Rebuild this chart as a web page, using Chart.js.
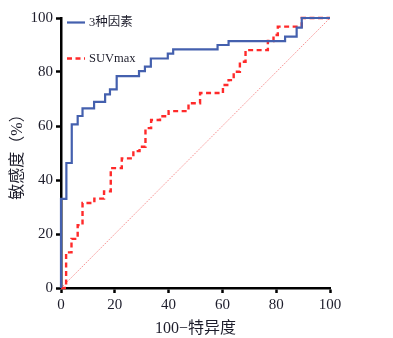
<!DOCTYPE html>
<html>
<head>
<meta charset="utf-8">
<script src="https://cdn.jsdelivr.net/npm/chart.js@4/dist/chart.umd.min.js"></script>
<style>
  html, body { margin: 0; padding: 0; background: #fff; }
  #wrap { width: 393px; height: 338px; position: relative; }
</style>
</head>
<body>
<div id="wrap"><canvas id="roc"></canvas></div>
<script>
// ROC curve: combined model of three factors vs. SUVmax alone
const combinedLabel = '3种因素';
const combinedFpr = [0, 0, 2.0, 4.0, 6.2, 8.0, 12.3, 16.4, 18.2, 20.7, 29.0, 31.2, 33.4, 39.7, 41.7, 58.2, 62.3, 83.3, 87.6, 89.5, 100];
const combinedTpr = [0, 33.0, 46.3, 60.6, 63.7, 66.5, 68.9, 71.7, 73.6, 78.5, 80.3, 82.0, 85.0, 86.8, 88.4, 90.0, 91.4, 93.1, 96.4, 100, 100];

const suvLabel = 'SUVmax';
const suvFpr = [0, 1.9, 3.9, 6.2, 8.0, 12.4, 16.0, 18.5, 22.6, 26.9, 29.2, 31.4, 33.5, 36.8, 40.0, 47.4, 51.7, 60.2, 62.3, 64.2, 66.5, 68.6, 76.9, 79.0, 80.6, 89.5, 100];
const suvTpr = [0, 13.2, 18.2, 23.3, 31.5, 33.1, 35.8, 44.4, 48.0, 50.7, 52.3, 59.2, 62.2, 63.6, 65.5, 68.4, 72.2, 75.2, 77.0, 80.1, 83.8, 88.1, 91.5, 93.7, 96.8, 100, 100];

const chanceLine = [0, 100];
const tickValues = [0, 20, 40, 60, 80, 100];
const xTitle = '100−特异度';
const yTitle = '敏感度（%）';

const toPoints = (xs, ys) => xs.map((x, i) => ({ x: x, y: ys[i] }));

const serif = "'Liberation Serif', 'Times New Roman', 'Noto Sans CJK SC', serif";
const textColor = '#1d1d2b';
const blue = '#4460ae';
const red = '#ff2a2a';

// Legend drawn inside the plot, top-left corner, in dataset order
const innerLegend = {
  id: 'innerLegend',
  afterDatasetsDraw(chart) {
    const { ctx, chartArea } = chart;
    const items = chart.data.datasets.filter(d => d.showInLegend);
    ctx.save();
    ctx.font = '12.5px ' + serif;
    ctx.textBaseline = 'middle';
    items.forEach((ds, i) => {
      const y = chartArea.top + 4.5 + i * 36;
      const x0 = chartArea.left + 6;
      ctx.strokeStyle = ds.borderColor;
      ctx.lineWidth = ds.borderWidth;
      ctx.setLineDash(ds.borderDash || []);
      ctx.beginPath();
      ctx.moveTo(x0, y);
      ctx.lineTo(x0 + 18, y);
      ctx.stroke();
      ctx.setLineDash([]);
      ctx.fillStyle = textColor;
      ctx.fillText(ds.label, x0 + 22, y + 0.5);
    });
    ctx.restore();
  }
};

new Chart(document.getElementById('roc'), {
  type: 'line',
  data: {
    datasets: [
      {
        label: combinedLabel,
        data: toPoints(combinedFpr, combinedTpr),
        borderColor: blue,
        borderWidth: 2.2,
        stepped: 'before',
        pointRadius: 0,
        clip: false,
        showInLegend: true,
        order: 0
      },
      {
        label: suvLabel,
        data: toPoints(suvFpr, suvTpr),
        borderColor: red,
        borderWidth: 2.4,
        borderDash: [5, 3.5],
        stepped: 'before',
        pointRadius: 0,
        clip: false,
        showInLegend: true,
        order: 1
      },
      {
        label: 'chance',
        data: toPoints(chanceLine, chanceLine),
        borderColor: 'rgba(245, 110, 110, 0.85)',
        borderWidth: 0.9,
        borderDash: [1.5, 1.2],
        pointRadius: 0,
        showInLegend: false,
        order: 2
      }
    ]
  },
  options: {
    responsive: true,
    maintainAspectRatio: false,
    animation: false,
    layout: { padding: { left: 8, top: 18, right: 63, bottom: 0 } },
    plugins: {
      legend: { display: false },
      tooltip: { enabled: false }
    },
    scales: {
      x: {
        type: 'linear',
        min: 0,
        max: 100,
        afterBuildTicks: s => { s.ticks = tickValues.map(v => ({ value: v })); },
        afterFit: s => { s.height = 50; },
        border: { display: true, color: '#000', width: 2.5 },
        grid: { drawOnChartArea: false, drawTicks: true, tickLength: 5, tickColor: '#000', tickWidth: 2.5 },
        ticks: { color: textColor, font: { family: serif, size: 15 }, padding: 3, maxRotation: 0 },
        title: { display: true, text: xTitle, color: textColor, font: { family: serif, size: 16 }, padding: { top: 1, bottom: 0 } }
      },
      y: {
        type: 'linear',
        min: 0,
        max: 100,
        afterBuildTicks: s => { s.ticks = tickValues.map(v => ({ value: v })); },
        afterFit: s => { s.width = 53; },
        border: { display: true, color: '#000', width: 2.5 },
        grid: { drawOnChartArea: false, drawTicks: true, tickLength: 5, tickColor: '#000', tickWidth: 2.5 },
        ticks: { color: textColor, font: { family: serif, size: 15 }, padding: 3 },
        title: { display: true, text: yTitle, color: textColor, font: { family: serif, size: 16 }, padding: { top: 0, bottom: 0 } }
      }
    }
  },
  plugins: [innerLegend]
});
</script>
</body>
</html>
